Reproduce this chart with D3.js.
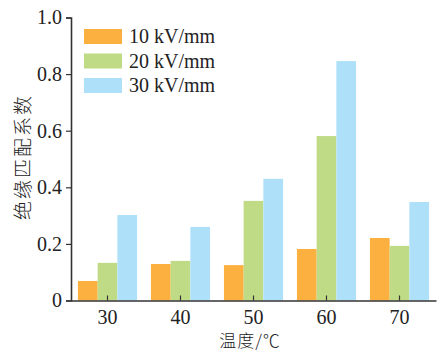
<!DOCTYPE html>
<html>
<head>
<meta charset="utf-8">
<script src="https://cdn.jsdelivr.net/npm/d3@7"></script>
<style>
  body { margin: 0; background: #fff; }
  text { font-family: "Liberation Serif", "Times New Roman", serif; fill: #222; }
</style>
</head>
<body>
<div id="chart"></div>
<script>
var categories = ["30", "40", "50", "60", "70"];
var seriesNames = ["10 kV/mm", "20 kV/mm", "30 kV/mm"];
var v10 = [0.069, 0.129, 0.125, 0.182, 0.221];
var v20 = [0.133, 0.140, 0.352, 0.581, 0.193];
var v30 = [0.302, 0.260, 0.430, 0.846, 0.348];
var yTicks = [0, 0.2, 0.4, 0.6, 0.8, 1.0];
var colors = ["#fbb040", "#bfdb85", "#aee0f9"];

var width = 437, height = 353;
var margin = {top: 17.5, right: 1, bottom: 52.5, left: 71};

var svg = d3.select("#chart").append("svg")
    .attr("width", width)
    .attr("height", height);

var g = svg.append("g")
    .attr("transform", "translate(" + margin.left + "," + margin.top + ")");

var w = width - margin.left - margin.right,
    h = height - margin.top - margin.bottom;

var x = d3.scaleBand().domain(categories).range([0, w]).paddingInner(0.19).paddingOuter(0.095);
var xs = d3.scaleBand().domain(d3.range(3)).range([0, x.bandwidth()]);
var y = d3.scaleLinear().domain([0, 1]).range([h, 0]);

var all = [v10, v20, v30];

// bars
all.forEach(function (vals, s) {
    g.selectAll(".bar" + s)
        .data(vals)
        .enter().append("rect")
        .attr("x", function (d, i) { return x(categories[i]) + xs(s); })
        .attr("y", function (d) { return y(d); })
        .attr("width", xs.bandwidth())
        .attr("height", function (d) { return h - y(d); })
        .attr("fill", colors[s]);
});

// y axis
var yAxis = g.append("g")
    .call(d3.axisLeft(y).tickValues(yTicks).tickSize(5)
        .tickFormat(function (d) { return d === 0 ? "0" : d3.format(".1f")(d); }));
yAxis.select(".domain").attr("stroke", "#333").attr("stroke-width", 1.6);
yAxis.selectAll(".tick line").attr("stroke", "#333").attr("stroke-width", 1.2);
yAxis.selectAll("text").attr("font-size", 20).attr("x", -9).attr("fill", "#222")
    .style("font-family", "'Liberation Serif', serif");

// x axis, ticks pointing inward
var xAxis = g.append("g")
    .attr("transform", "translate(0," + h + ")")
    .call(d3.axisBottom(x).tickSizeInner(-5).tickSizeOuter(0));
xAxis.select(".domain").attr("stroke", "#333").attr("stroke-width", 1.6);
xAxis.selectAll(".tick line").attr("stroke", "#333").attr("stroke-width", 1.2);
xAxis.selectAll("text").attr("font-size", 20).attr("y", 9).attr("fill", "#222")
    .style("font-family", "'Liberation Serif', serif");

// axis titles
svg.append("text")
    .attr("transform", "translate(30,157) rotate(-90)")
    .attr("text-anchor", "middle")
    .attr("font-size", 19)
    .attr("letter-spacing", 2)
    .attr("fill", "#333")
    .style("font-family", "'Noto Sans CJK SC', sans-serif")
    .style("font-weight", 300)
    .text("绝缘匹配系数");

svg.append("text")
    .attr("x", 250)
    .attr("y", 347)
    .attr("text-anchor", "middle")
    .attr("font-size", 17)
    .attr("letter-spacing", 1)
    .attr("fill", "#333")
    .style("font-family", "'Noto Sans CJK SC', sans-serif")
    .style("font-weight", 300)
    .text("温度/℃");

// legend
var legend = svg.append("g").attr("transform", "translate(84,29)");
seriesNames.forEach(function (name, i) {
    var row = legend.append("g").attr("transform", "translate(0," + (i * 24.5) + ")");
    row.append("rect").attr("width", 38).attr("height", 15).attr("fill", colors[i]);
    row.append("text").attr("x", 45).attr("y", 14).attr("font-size", 20).text(name);
});
</script>
</body>
</html>
